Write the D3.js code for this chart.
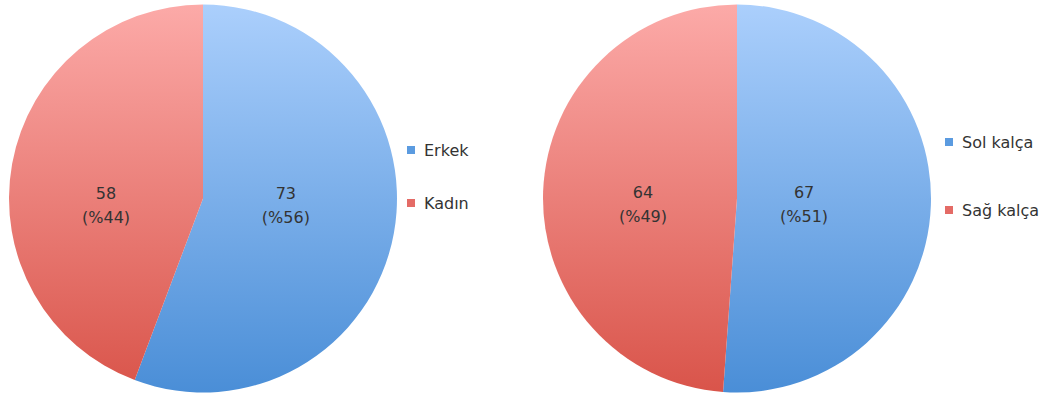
<!DOCTYPE html>
<html>
<head>
<meta charset="utf-8">
<script src="https://cdn.jsdelivr.net/npm/d3@7"></script>
<style>
  html, body { margin: 0; padding: 0; background: #fff; }
  svg { display: block; }
  text { font-family: "DejaVu Sans", "Open Sans", sans-serif; fill: #333; }
</style>
</head>
<body>
<svg id="chart" width="1047" height="398"></svg>
<script>
// Two pie charts: patients by sex, and by operated side
const sexCategories = ["Erkek", "Kadın"];
const sexValues = [73, 58];
const sexPercents = [56, 44];

const sideCategories = ["Sol kalça", "Sağ kalça"];
const sideValues = [67, 64];
const sidePercents = [51, 49];

// Gradient colours for the two slice colours (top -> bottom)
const sliceGradients = [
  { id: "gBlue", top: "#abcffc", bottom: "#4a8ed7", key: "#5b9be0" },
  { id: "gRed",  top: "#fcaaa8", bottom: "#d9544a", key: "#e46b66" }
];

const svg = d3.select("#chart");
const defs = svg.append("defs");

// layout of each pie; labelFrac = label distance from centre as a fraction of radius
const charts = [
  { cats: sexCategories, vals: sexValues, pcts: sexPercents, cx: 203, cy: 198.5, r: 194,
    labelFrac: [0.434, 0.508], labelY: 0.5, legendX: 407, legendY: [151, 204] },
  { cats: sideCategories, vals: sideValues, pcts: sidePercents, cx: 737, cy: 198.5, r: 194,
    labelFrac: [0.346, 0.485], labelY: -1, legendX: 945, legendY: [143, 211] }
];

charts.forEach((c, ci) => {
  // vertical gradients spanning the pie (in the pie's local coordinates)
  sliceGradients.forEach(g => {
    const lg = defs.append("linearGradient")
      .attr("id", g.id + ci)
      .attr("gradientUnits", "userSpaceOnUse")
      .attr("x1", 0).attr("x2", 0)
      .attr("y1", -c.r).attr("y2", c.r);
    lg.append("stop").attr("offset", "0%").attr("stop-color", g.top);
    lg.append("stop").attr("offset", "100%").attr("stop-color", g.bottom);
  });

  const data = c.cats.map((name, i) => ({ name, value: c.vals[i], pct: c.pcts[i], i }));
  const pie = d3.pie().sort(null).value(d => d.value);
  const arcs = pie(data);
  const arc = d3.arc().innerRadius(0).outerRadius(c.r);

  const g = svg.append("g").attr("transform", `translate(${c.cx},${c.cy})`);
  g.selectAll("path.slice")
    .data(arcs)
    .join("path")
    .attr("class", "slice")
    .attr("d", arc)
    .attr("fill", d => `url(#${sliceGradients[d.index].id}${ci})`);

  // value labels: count and share
  arcs.forEach(d => {
    const rr = c.r * c.labelFrac[d.index];
    const [x] = d3.arc().innerRadius(rr).outerRadius(rr).centroid(d);
    const t = g.append("text")
      .attr("text-anchor", "middle")
      .attr("font-size", 16)
      .attr("transform", `translate(${x},${c.labelY})`);
    t.append("tspan").attr("x", 0).attr("y", 0).text(d.data.value);
    t.append("tspan").attr("x", 0).attr("y", 24).text(`(%${d.data.pct})`);
  });

  // legend
  const lg = svg.append("g");
  data.forEach((d, i) => {
    lg.append("rect")
      .attr("x", c.legendX).attr("y", c.legendY[i] - 5)
      .attr("width", 8).attr("height", 8)
      .attr("fill", sliceGradients[i].key);
    lg.append("text")
      .attr("x", c.legendX + 17).attr("y", c.legendY[i] + 5)
      .attr("font-size", 16)
      .text(d.name);
  });
});
</script>
</body>
</html>
